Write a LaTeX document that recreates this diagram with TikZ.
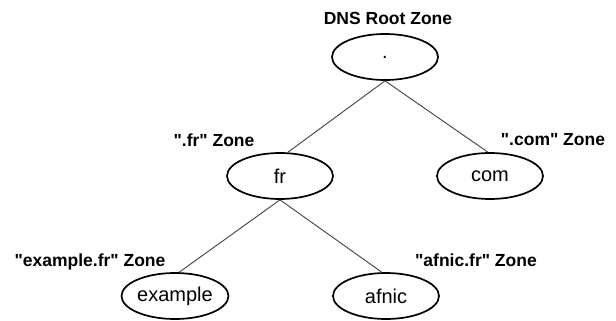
\documentclass[tikz,border=0pt]{standalone}
\usepackage{fontspec}
\setmainfont{Liberation Sans}
% a family without the TeX mapping, so that " stays a straight quote
\newfontfamily\plainsans{Liberation Sans}
\usetikzlibrary{shapes.geometric}
\begin{document}
\begin{tikzpicture}[x=1pt,y=-1pt,
  zonenode/.style={draw=black, line width=1.7pt, ellipse, inner sep=0pt,
    minimum width=106pt, minimum height=46pt, font=\plainsans\fontsize{20}{22}\selectfont},
  zonelabel/.style={font=\plainsans\fontsize{17.5}{19}\selectfont\bfseries, inner sep=0pt},
  link/.style={draw=black!75, line width=0.9pt}]
  \useasboundingbox (0,0) rectangle (616,321);
  % domain tree
  \node[zonenode] (root) at (385,57) {.};
  \node[zonenode] (fr) at (280,176) {fr};
  \node[zonenode] (com) at (490,176) {com};
  \node[zonenode] (example) at (175,296) {example};
  \node[zonenode] (afnic) at (386,296) {afnic};
  % zone labels
  \node[zonelabel] (lroot) at (388,18) {DNS Root Zone};
  \node[zonelabel] (lfr) at (214,140) {".fr" Zone};
  \node[zonelabel] (lcom) at (553,140) {".com" Zone};
  \node[zonelabel] (lexample) at (90,262) {"example.fr" Zone};
  \node[zonelabel] (lafnic) at (476,260) {"afnic.fr" Zone};
  % delegations
  \draw[link] (root.south) -- (fr.72);
  \draw[link] (root.south) -- (com.95);
  \draw[link] (fr.south) -- (example.80);
  \draw[link] (fr.south) -- (afnic.100);
\end{tikzpicture}
\end{document}
